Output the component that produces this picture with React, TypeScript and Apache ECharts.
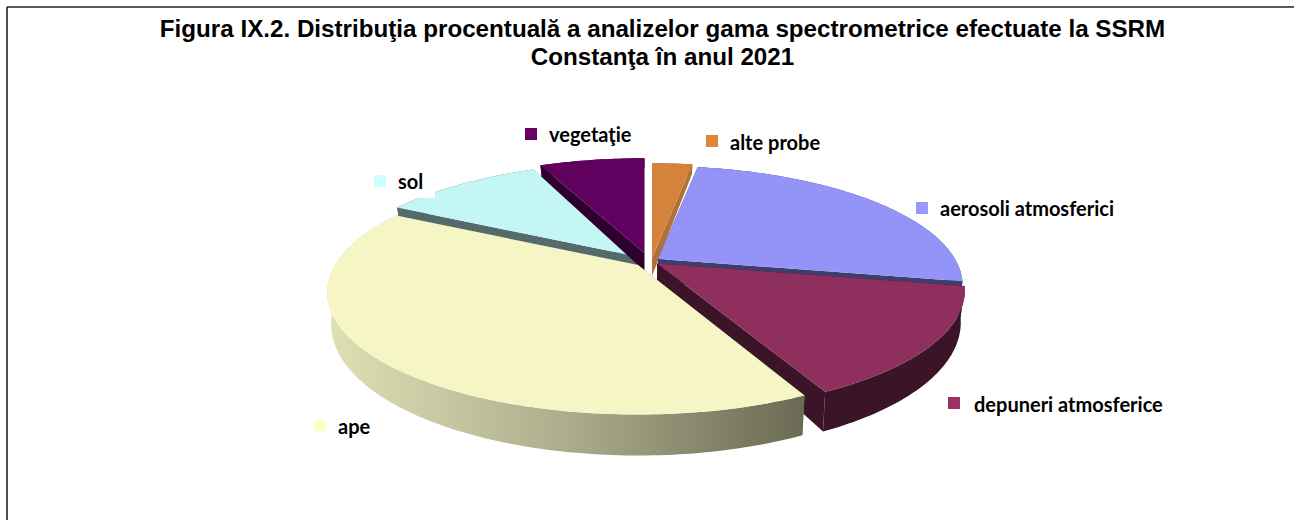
import React, { useEffect, useRef } from "react";
import * as echarts from "echarts";

const titleText = "Figura IX.2. Distribuţia procentuală a analizelor gama spectrometrice efectuate la SSRM\nConstanţa în anul 2021";
// clockwise from 12 o'clock
const categories = ["alte probe", "aerosoli atmosferici", "depuneri atmosferice", "ape", "sol", "vegetaţie"];
const shares = [2.6, 25.4, 14.6, 40.2, 10.3, 6.9];

const topColors = ["#d5833b", "#9494f8", "#8f2f5d", "#f5f5c6", "#c3f6f5", "#60005f"];
const sideColors = ["#b0703a", "#3f3d6b", "#3c1428", "#8c8c70", "#556b6b", "#2e002e"];
const markerColors = ["#df8538", "#9999ff", "#993366", "#ffffcc", "#ccffff", "#660066"];
// back to front
const drawOrder = [4, 5, 0, 1, 2, 3];
// exploded apex of each slice on the page, radius factor, gap at the start of the slice (degrees)
const apexes = [[652, 258], [658, 259], [657, 263.5], [638, 265], [639, 257], [644.5, 253]];
const radiusFactor = [1, 0.98, 0.99, 1, 1, 1];
const startGap = [0, 0, 0, 0.6, 0, 0.4];
// marker left/top, text left/centre
const labelAt = [[706, 135, 730, 142], [916, 202, 940, 207.5], [948, 397, 974, 404], [314, 420, 338, 426], [374, 175, 398, 180.5], [525, 128, 549, 133.5]];

const R = 303, RY = 116, K = 0.224;
const total = shares.reduce((a, b) => a + b, 0);
const rad = (d: number) => (d * Math.PI) / 180;

function rimHeight(v: number) {
  return v >= 0 ? 29 + 12 * v : 29 + 19 * v;
}

function project(apex: number[], theta: number, f: number) {
  const u = Math.sin(theta), v = -Math.cos(theta), w = 1 - K * v;
  return [apex[0] + (f * R * u) / w, apex[1] + (f * RY * v) / w, v];
}

function lower(apex: number[], p: number[]) {
  const h = rimHeight(p[2]);
  return [apex[0] + (p[0] - apex[0]) * 0.987, p[1] + h];
}

function renderItem(params: any, api: any) {
  const idx = api.value(0);
  let before = 0;
  for (let i = 0; i < idx; i++) before += shares[i];
  const a0 = rad((before / total) * 360 + startGap[idx]);
  const a1 = rad(((before + api.value(1)) / total) * 360);
  const apex = apexes[idx];
  const steps = Math.max(4, Math.ceil(((a1 - a0) * 180) / Math.PI));
  const rim: number[][] = [];
  for (let s = 0; s <= steps; s++) rim.push(project(apex, a0 + ((a1 - a0) * s) / steps, radiusFactor[idx]));
  const rimXY = rim.map((p) => [p[0], p[1]]);
  const rimLow = rim.map((p) => lower(apex, p));
  const apexLow = [apex[0], apex[1] + 18];
  const side = sideColors[idx];
  const outerFill: any = idx === 3
    ? new echarts.graphic.LinearGradient(0, 0, 1, 0, [
        { offset: 0, color: "#e0e0b6" },
        { offset: 0.5, color: "#adad8c" },
        { offset: 1, color: "#6a6a54" },
      ])
    : side;
  const poly = (points: number[][], fill: any) => ({ type: "polygon", shape: { points }, style: { fill, stroke: null } });
  const la = labelAt[idx];
  const children: any[] = [
    poly([apex, rimXY[0], rimLow[0], apexLow], side),
    poly([apex, rimXY[rimXY.length - 1], rimLow[rimLow.length - 1], apexLow], side),
    poly([...rimXY, ...rimLow.slice().reverse()], outerFill),
    poly([apex, ...rimXY], topColors[idx]),
  ];
  if (idx === 4) {
    children.push({ type: "rect", shape: { x: 420, y: 192, width: 15, height: 6 }, style: { fill: "#ffffff" } });
  }
  children.push(
    { type: "rect", shape: { x: la[0], y: la[1], width: 12, height: 12 }, style: { fill: markerColors[idx] } },
    {
      type: "text",
      x: la[2],
      y: la[3],
      style: {
        text: categories[idx],
        fill: "#000000",
        font: 'bold 20px Lato, "Open Sans", sans-serif',
        textAlign: "left",
        textVerticalAlign: "middle",
      },
    }
  );
  return { type: "group", children };
}

export default function App() {
  const ref = useRef<HTMLDivElement>(null);
  useEffect(() => {
    const chart = echarts.init(ref.current!, null, { renderer: "svg" });
    chart.setOption({
      animation: false,
      backgroundColor: "#ffffff",
      title: {
        text: titleText,
        left: 657.5,
        top: 9,
        textAlign: "center",
        textStyle: { fontFamily: "Liberation Sans", fontWeight: "bold", fontSize: 24.2, lineHeight: 28, color: "#000000" },
      },
      graphic: [
        { type: "line", shape: { x1: 7, y1: 7, x2: 1294, y2: 7 }, style: { stroke: "#222222", lineWidth: 1.6 } },
        { type: "line", shape: { x1: 7, y1: 7, x2: 7, y2: 520 }, style: { stroke: "#222222", lineWidth: 1.6 } },
      ],
      series: [
        {
          type: "custom",
          coordinateSystem: "none",
          renderItem,
          encode: { value: 1 },
          data: drawOrder.map((i) => [i, shares[i]]),
        },
      ],
    });
    return () => chart.dispose();
  }, []);
  return <div ref={ref} style={{ position: "absolute", left: 0, top: 0, width: 1294, height: 520 }} />;
}
